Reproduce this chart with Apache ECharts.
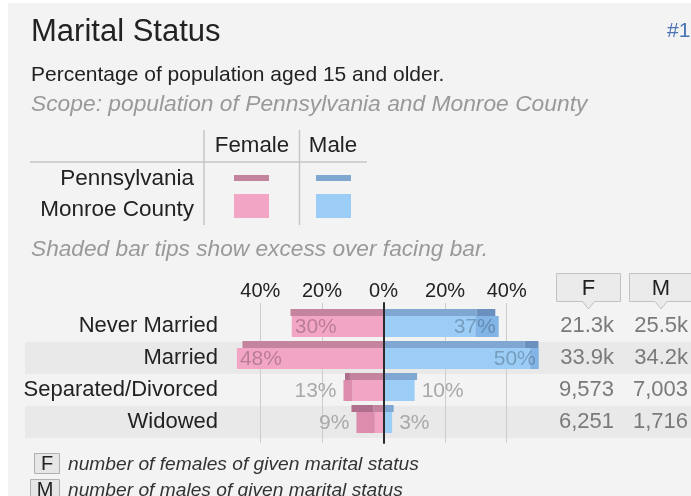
<!DOCTYPE html>
<html>
<head>
<meta charset="utf-8">
<title>Marital Status</title>
<script src="https://cdn.jsdelivr.net/npm/echarts@6/dist/echarts.min.js"></script>
<style>
html,body{margin:0;padding:0;background:#fff;}
#chart{width:691px;height:496px;}
</style>
</head>
<body>
<div id="chart"></div>
<script>
// rows of the chart
const categories = ['Never Married', 'Married', 'Separated/Divorced', 'Widowed'];
// % of population aged 15+, Monroe County (thick bars)
const monroeFemale = [29.8, 47.6, 13.0, 8.8];
const monroeMale = [37.4, 50.4, 10.1, 2.8];
// % of population aged 15+, Pennsylvania (thin bars)
const paFemale = [30.2, 45.8, 12.5, 10.4];
const paMale = [36.3, 50.3, 10.9, 3.3];
// counts for Monroe County
const femaleCounts = ['21.3k', '33.9k', '9,573', '6,251'];
const maleCounts = ['25.5k', '34.2k', '7,003', '1,716'];

const FONT = 'Liberation Sans, Arial, sans-serif';

const colors = {
  paF: '#c4849e', paFx: '#b06f8c',
  paM: '#7fa7d1', paMx: '#6b90bd',
  mcF: '#f2a5c4', mcFx: '#dc8dae',
  mcM: '#9bcdf7', mcMx: '#82b4e5'
};

// label for the outer end of a Monroe bar
function pctLabel(val, side) {
  let inside = val > 20;
  return {
    show: true,
    position: inside ? (side == 'f' ? 'insideLeft' : 'insideRight') : (side == 'f' ? 'left' : 'right'),
    distance: inside ? 3 : 7,
    formatter: Math.round(val) + '%',
    color: inside ? 'rgba(0,0,0,0.24)' : '#a9a9a9',
    fontSize: 21,
    fontFamily: FONT,
    offset: [0, 1]
  };
}

// base part (min of both sides) + shaded tip (excess over facing bar)
function buildSide(stack, width, female, male, cF, cFx, cM, cMx, withLabels) {
  let baseF = [], exF = [], baseM = [], exM = [];
  female.forEach((f, i) => {
    let m = male[i];
    let lo = Math.min(f, m);
    let off = {show: false};
    baseF.push({value: -lo, label: withLabels && f <= m ? pctLabel(f, 'f') : off});
    exF.push({value: -(f - lo), label: withLabels && f > m ? pctLabel(f, 'f') : off});
    baseM.push({value: lo, label: withLabels && m <= f ? pctLabel(m, 'm') : off});
    exM.push({value: m - lo, label: withLabels && m > f ? pctLabel(m, 'm') : off});
  });
  let mk = (data, color) => ({
    type: 'bar',
    xAxisIndex: 2,
    yAxisIndex: 4,
    stack: stack,
    barWidth: width,
    barGap: 0,
    silent: true,
    itemStyle: {color: color},
    data: data
  });
  return [mk(baseF, cF), mk(exF, cFx), mk(baseM, cM), mk(exM, cMx)];
}

let chart = echarts.init(document.getElementById('chart'));

let txt = (x, y, text, size, extra) => ({
  type: 'text', x: x, y: y, silent: true,
  style: Object.assign({text: text, fontSize: size, fontFamily: FONT, fill: '#222', verticalAlign: 'middle'}, extra || {})
});
let line = (x1, y1, x2, y2) => ({
  type: 'line', silent: true,
  shape: {x1: x1, y1: y1, x2: x2, y2: y2},
  style: {stroke: '#c6c6c6', lineWidth: 1.5}
});
let rect = (x, y, w, h, fill, stroke) => ({
  type: 'rect', silent: true,
  shape: {x: x, y: y, width: w, height: h},
  style: {fill: fill, stroke: stroke || null, lineWidth: 1}
});
let callout = (x1, x2) => {
  let c = (x1 + x2) / 2;
  return {
    type: 'polygon', silent: true,
    shape: {points: [[x1, 273.5], [x2, 273.5], [x2, 301.5], [c + 6, 301.5], [c, 309], [c - 6, 301.5], [x1, 301.5]]},
    style: {fill: '#ebebeb', stroke: '#c2c2c2', lineWidth: 1}
  };
};

let options = {
  backgroundColor: '#f3f3f3',
  animation: false,
  textStyle: {fontFamily: FONT},
  grid: [
    {left: 25, right: 0, top: 310, height: 128, outerBoundsMode: 'none'},          // row stripes, labels, counts
    {left: 260.3, width: 246.4, top: 303, height: 140, outerBoundsMode: 'none'},   // gridlines + top axis
    {left: 217.2, width: 338.8, top: 307, height: 128, outerBoundsMode: 'none'}    // bars
  ],
  xAxis: [
    {gridIndex: 0, type: 'value', min: 0, max: 1, show: false},
    {
      gridIndex: 1, type: 'value', min: -40, max: 40, interval: 20, position: 'top',
      axisLine: {show: false}, axisTick: {show: false},
      axisLabel: {formatter: v => Math.abs(v) + '%', fontSize: 20, color: '#222', margin: 2},
      splitLine: {show: true, lineStyle: {color: '#cdcdcd', width: 1}}
    },
    {gridIndex: 2, type: 'value', min: -54, max: 56, show: false}
  ],
  yAxis: [
    {
      gridIndex: 0, type: 'category', inverse: true, data: categories,
      axisLine: {show: false}, axisTick: {show: false},
      axisLabel: {inside: true, align: 'right', margin: 193, fontSize: 22, color: '#222', padding: [3, 0, 0, 0]},
      splitArea: {show: true, areaStyle: {color: ['rgba(0,0,0,0)', '#e9e9e9']}}
    },
    {
      gridIndex: 0, type: 'category', inverse: true, data: femaleCounts, position: 'right',
      axisLine: {show: false}, axisTick: {show: false},
      axisLabel: {inside: true, align: 'right', margin: 77, fontSize: 22, color: '#7a7a7a', padding: [3, 0, 0, 0]}
    },
    {
      gridIndex: 0, type: 'category', inverse: true, data: maleCounts, position: 'right',
      axisLine: {show: false}, axisTick: {show: false},
      axisLabel: {inside: true, align: 'right', margin: 3, fontSize: 22, color: '#7a7a7a', padding: [3, 0, 0, 0]}
    },
    {
      gridIndex: 1, type: 'value', min: 0, max: 1, z: 5,
      axisLine: {show: true, onZero: true, lineStyle: {color: '#2b2b2b', width: 2}},
      axisTick: {show: false}, axisLabel: {show: false}, splitLine: {show: false}
    },
    {gridIndex: 2, type: 'category', inverse: true, data: categories, show: false}
  ],
  series: [].concat(
    buildSide('pa', 7, paFemale, paMale, colors.paF, colors.paFx, colors.paM, colors.paMx, false),
    buildSide('mc', 21, monroeFemale, monroeMale, colors.mcF, colors.mcFx, colors.mcM, colors.mcMx, true)
  ),
  graphic: [
    rect(0, 0, 8, 496, '#fff'),
    rect(0, 0, 691, 3, '#fff'),
    txt(31, 32, 'Marital Status', 31),
    txt(667, 31, '#1', 21, {fill: '#4a74b4'}),
    txt(31, 75, 'Percentage of population aged 15 and older.', 21),
    txt(31, 105, 'Scope: population of Pennsylvania and Monroe County', 22.8, {fontStyle: 'italic', fill: '#999'}),
    // legend table
    line(204, 130, 204, 225),
    line(299.5, 130, 299.5, 225),
    line(30, 162, 367, 162),
    txt(252, 146, 'Female', 22.3, {align: 'center'}),
    txt(333, 146, 'Male', 22.3, {align: 'center'}),
    txt(194, 179, 'Pennsylvania', 22.5, {align: 'right'}),
    txt(194, 210, 'Monroe County', 22.5, {align: 'right'}),
    rect(234, 175, 35, 6, colors.paF),
    rect(316, 175, 35, 6, colors.paM),
    rect(234, 194, 35, 24, colors.mcF),
    rect(316, 194, 35, 24, colors.mcM),
    txt(31, 250, 'Shaded bar tips show excess over facing bar.', 22.7, {fontStyle: 'italic', fill: '#999'}),
    // count column headers
    callout(556.5, 620.5),
    callout(629.5, 692.5),
    txt(588.5, 289, 'F', 22, {align: 'center'}),
    txt(661, 289, 'M', 22, {align: 'center'}),
    // footer keys
    rect(34.5, 453.5, 25, 20, '#e6e6e6', '#b0b0b0'),
    txt(47, 464, 'F', 20, {align: 'center'}),
    txt(68, 465, 'number of females of given marital status', 19.2, {fontStyle: 'italic', fill: '#333'}),
    rect(30.5, 479.5, 29, 20, '#e6e6e6', '#b0b0b0'),
    txt(45, 490, 'M', 20, {align: 'center'}),
    txt(68, 491, 'number of males of given marital status', 19.2, {fontStyle: 'italic', fill: '#333'})
  ]
};

chart.setOption(options);
</script>
</body>
</html>
